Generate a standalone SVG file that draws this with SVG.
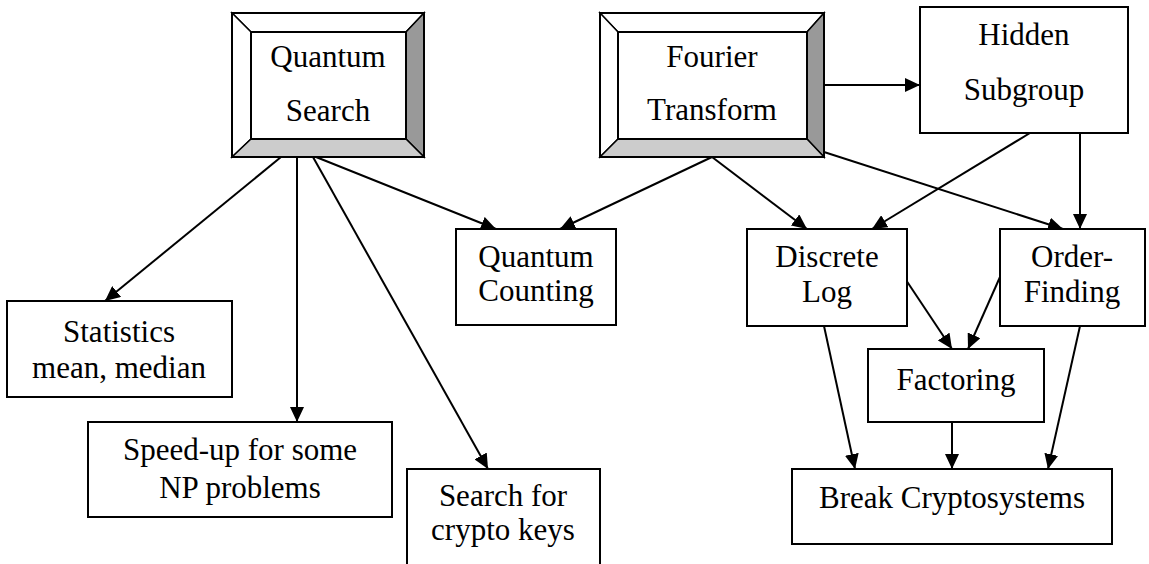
<svg xmlns="http://www.w3.org/2000/svg" width="1149" height="564" viewBox="0 0 1149 564">
  <style>
    .box { fill: #ffffff; stroke: #000000; stroke-width: 2; }
    .bev { stroke: #000000; stroke-width: 1.5; stroke-linejoin: miter; }
    .lite { fill: #ffffff; }
    .dark { fill: #999999; }
    .mid { fill: #cccccc; }
    .lbl { font-family: "Liberation Serif", "Times New Roman", serif; font-size: 31px; fill: #000000; text-anchor: middle; }
    .edge { fill: none; stroke: #000000; stroke-width: 2; marker-end: url(#arrow); }
  </style>
  <defs>
    <marker id="arrow" markerUnits="userSpaceOnUse" markerWidth="16" markerHeight="14" refX="15" refY="7" orient="auto">
      <path d="M0,0 L15,7 L0,14 z" fill="#000000"/>
    </marker>
  </defs>

  <!-- connectors -->
  <g id="connectors">
    <line class="edge" x1="281" y1="157" x2="105" y2="301"/>
    <line class="edge" x1="297" y1="157" x2="297" y2="422"/>
    <line class="edge" x1="313" y1="157" x2="488" y2="469"/>
    <line class="edge" x1="316" y1="157" x2="496" y2="229"/>
    <line class="edge" x1="712" y1="157" x2="560" y2="229"/>
    <line class="edge" x1="712" y1="157" x2="807" y2="229"/>
    <line class="edge" x1="824" y1="152" x2="1063" y2="229"/>
    <line class="edge" x1="824" y1="85" x2="920" y2="85"/>
    <line class="edge" x1="1030" y1="133" x2="872" y2="229"/>
    <line class="edge" x1="1080" y1="133" x2="1080" y2="229"/>
    <line class="edge" x1="904" y1="277" x2="952" y2="349"/>
    <line class="edge" x1="1000" y1="277" x2="968" y2="349"/>
    <line class="edge" x1="824" y1="326" x2="855" y2="469"/>
    <line class="edge" x1="952" y1="422" x2="952" y2="469"/>
    <line class="edge" x1="1080" y1="326" x2="1048" y2="469"/>
  </g>

  <!-- bevelled node: Quantum Search -->
  <g id="quantum-search">
    <polygon class="bev lite" points="232,13 424,13 406,32 251,32"/>
    <polygon class="bev lite" points="232,13 251,32 251,139 232,157"/>
    <polygon class="bev dark" points="424,13 424,157 406,139 406,32"/>
    <polygon class="bev mid" points="232,157 251,139 406,139 424,157"/>
    <rect class="box" x="251" y="32" width="155" height="107"/>
    <rect x="232" y="13" width="192" height="144" fill="none" stroke="#000" stroke-width="2"/>
    <text class="lbl" x="328" y="67">Quantum</text>
    <text class="lbl" x="328" y="121">Search</text>
  </g>

  <!-- bevelled node: Fourier Transform -->
  <g id="fourier-transform">
    <polygon class="bev lite" points="600,13 824,13 807,32 618,32"/>
    <polygon class="bev lite" points="600,13 618,32 618,139 600,157"/>
    <polygon class="bev dark" points="824,13 824,157 807,139 807,32"/>
    <polygon class="bev mid" points="600,157 618,139 807,139 824,157"/>
    <rect class="box" x="618" y="32" width="189" height="107"/>
    <rect x="600" y="13" width="224" height="144" fill="none" stroke="#000" stroke-width="2"/>
    <text class="lbl" x="712" y="67">Fourier</text>
    <text class="lbl" x="712" y="120">Transform</text>
  </g>

  <g id="hidden-subgroup">
    <rect class="box" x="920" y="7" width="208" height="126"/>
    <text class="lbl" x="1024" y="45">Hidden</text>
    <text class="lbl" x="1024" y="100">Subgroup</text>
  </g>

  <g id="quantum-counting">
    <rect class="box" x="456" y="229" width="160" height="96"/>
    <text class="lbl" x="536" y="267">Quantum</text>
    <text class="lbl" x="536" y="301">Counting</text>
  </g>

  <g id="discrete-log">
    <rect class="box" x="747" y="229" width="160" height="97"/>
    <text class="lbl" x="827" y="267">Discrete</text>
    <text class="lbl" x="827" y="302">Log</text>
  </g>

  <g id="order-finding">
    <rect class="box" x="1000" y="229" width="145" height="97"/>
    <text class="lbl" x="1072" y="267">Order-</text>
    <text class="lbl" x="1072" y="302">Finding</text>
  </g>

  <g id="factoring">
    <rect class="box" x="868" y="349" width="176" height="73"/>
    <text class="lbl" x="956" y="390">Factoring</text>
  </g>

  <g id="break-cryptosystems">
    <rect class="box" x="792" y="469" width="320" height="75"/>
    <text class="lbl" x="952" y="508">Break Cryptosystems</text>
  </g>

  <g id="statistics">
    <rect class="box" x="7" y="301" width="225" height="96"/>
    <text class="lbl" x="119" y="342">Statistics</text>
    <text class="lbl" x="119" y="378">mean, median</text>
  </g>

  <g id="speed-up">
    <rect class="box" x="88" y="422" width="304" height="95"/>
    <text class="lbl" x="240" y="460">Speed-up for some</text>
    <text class="lbl" x="240" y="498">NP problems</text>
  </g>

  <g id="search-crypto-keys">
    <rect class="box" x="407" y="469" width="193" height="110"/>
    <text class="lbl" x="503" y="506">Search for</text>
    <text class="lbl" x="503" y="540">crypto keys</text>
  </g>
</svg>
